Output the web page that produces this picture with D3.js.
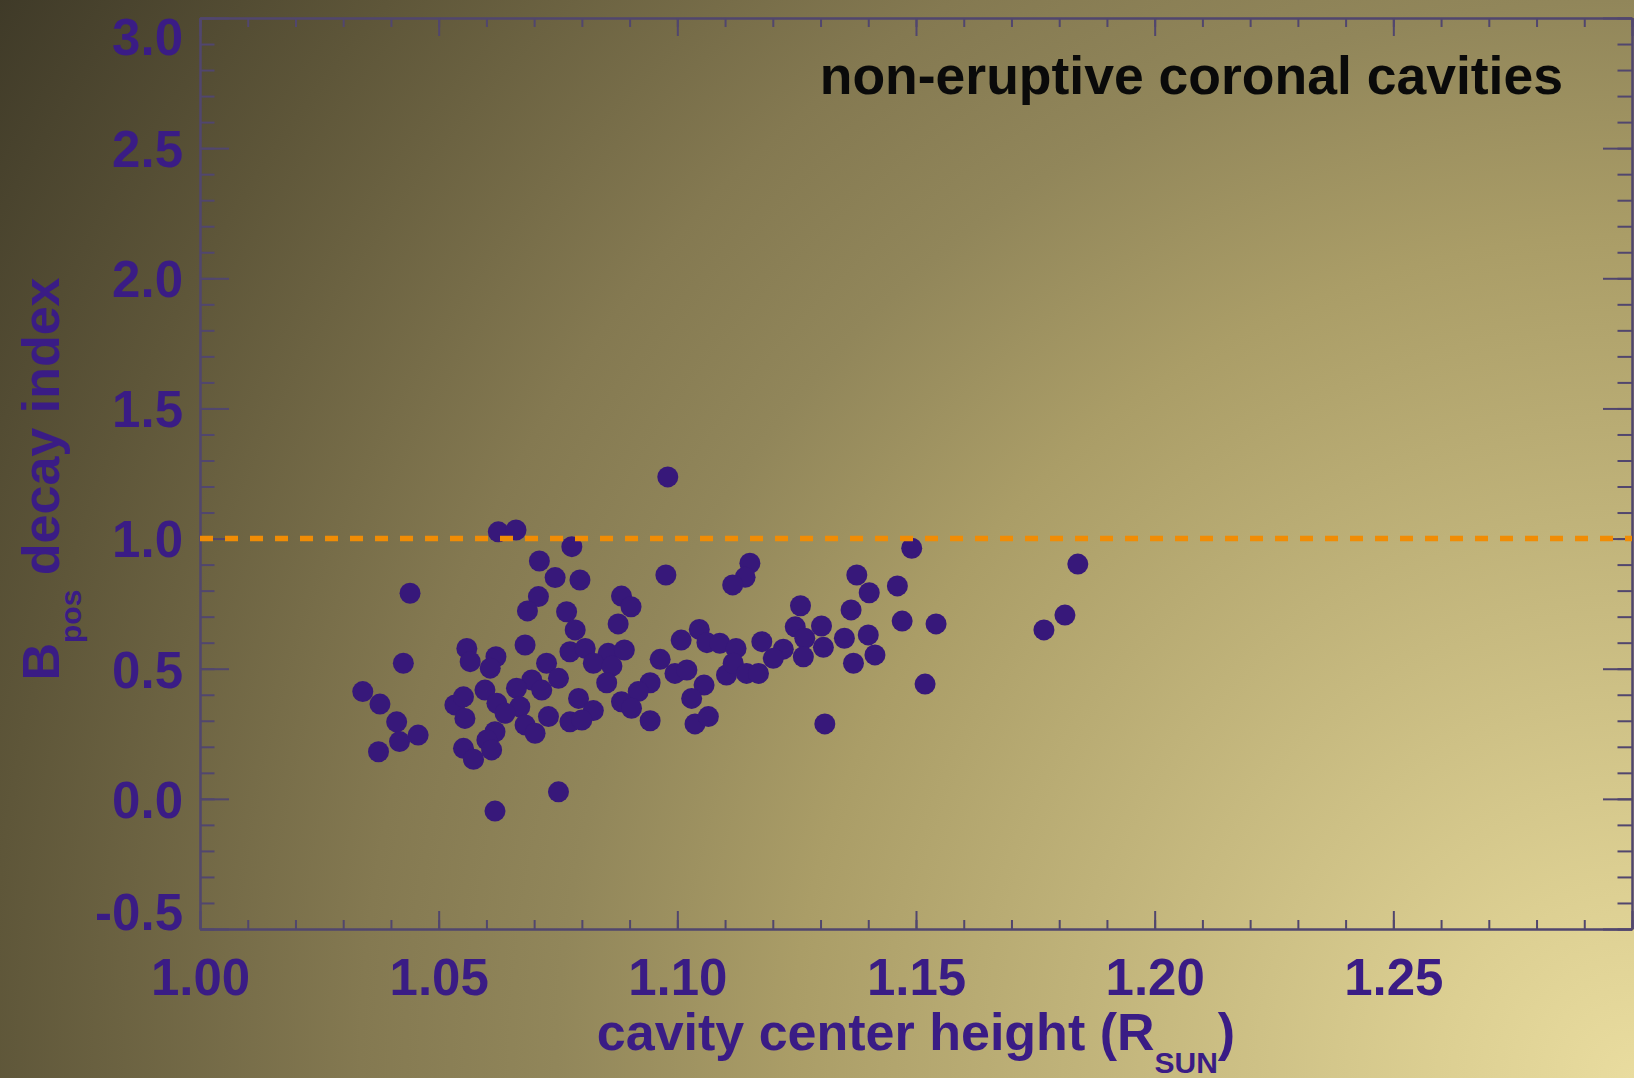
<!DOCTYPE html>
<html>
<head>
<meta charset="utf-8">
<script src="https://cdn.jsdelivr.net/npm/d3@7"></script>
<style>
  body { margin: 0; background: #5a5238; overflow: hidden; }
  text { font-family: "Liberation Sans", Arial, Helvetica, sans-serif; font-weight: bold; }
</style>
</head>
<body>
<div id="chart"></div>
<script>
// --- DATA ---
const cavityHeight = [
  1.0625, 1.0662, 1.0779, 1.0711, 1.0744, 1.0796, 1.0440, 1.0709, 1.0686, 1.0768,
  1.0786, 1.0559, 1.0681, 1.0775, 1.0426, 1.0566, 1.0620, 1.0608, 1.0726, 1.0751,
  1.0695, 1.0663, 1.0716, 1.0597, 1.0341, 1.0377, 1.0534, 1.0552, 1.0555, 1.0622,
  1.0670, 1.0639, 1.0793, 1.0412, 1.0457, 1.0418, 1.0374, 1.0618, 1.0601, 1.0611,
  1.0552, 1.0573, 1.0681, 1.0702, 1.0730, 1.0775, 1.0751, 1.0618,
  1.0976, 1.1152, 1.1142, 1.1116, 1.0883, 1.0903, 1.0876, 1.1046, 1.1008, 1.1062,
  1.1089, 1.1123, 1.1177, 1.1222, 1.0807, 1.0855, 1.0889, 1.0824, 1.0863, 1.0964,
  1.0995, 1.1020, 1.1103, 1.1117, 1.1145, 1.1170, 1.1201, 1.0852, 1.0943, 1.0918,
  1.1056, 1.1030, 1.0883, 1.0904, 1.0824, 1.0800, 1.0943, 1.1037, 1.1065,
  1.1491, 1.1376, 1.1402, 1.1461, 1.1258, 1.1364, 1.1471, 1.1542, 1.1247, 1.1302,
  1.1267, 1.1350, 1.1400, 1.1264, 1.1306, 1.1369, 1.1414, 1.1519, 1.1309,
  1.0980, 1.1768, 1.1812, 1.1839
];
const decayIndex = [
  1.026, 1.033, 0.969, 0.914, 0.850, 0.841, 0.790, 0.777, 0.722, 0.719,
  0.649, 0.578, 0.591, 0.565, 0.521, 0.527, 0.546, 0.502, 0.521, 0.463,
  0.457, 0.425, 0.418, 0.418, 0.412, 0.364, 0.361, 0.392, 0.309, 0.367,
  0.354, 0.329, 0.386, 0.296, 0.245, 0.220, 0.181, 0.258, 0.226, 0.188,
  0.194, 0.152, 0.284, 0.252, 0.316, 0.296, 0.027, -0.047,
  0.860, 0.905, 0.851, 0.822, 0.779, 0.738, 0.672, 0.651, 0.610, 0.600,
  0.598, 0.578, 0.604, 0.575, 0.578, 0.559, 0.572, 0.521, 0.510, 0.536,
  0.482, 0.495, 0.476, 0.521, 0.482, 0.482, 0.540, 0.446, 0.446, 0.412,
  0.437, 0.386, 0.373, 0.348, 0.339, 0.303, 0.300, 0.288, 0.316,
  0.963, 0.860, 0.792, 0.818, 0.742, 0.726, 0.683, 0.672, 0.661, 0.664,
  0.617, 0.617, 0.630, 0.546, 0.582, 0.521, 0.553, 0.441, 0.288,
  1.237, 0.649, 0.706, 0.902
];

const xDomain      = [1.00, 1.30];
const yDomain      = [-0.5, 3.0];
const xMajorTicks  = [1.00, 1.05, 1.10, 1.15, 1.20, 1.25, 1.30];
const xLabelTicks  = [1.00, 1.05, 1.10, 1.15, 1.20, 1.25];
const yMajorTicks  = [-0.5, 0.0, 0.5, 1.0, 1.5, 2.0, 2.5, 3.0];
const thresholdVal = 1.0;
const titleText    = 'non-eruptive coronal cavities';

// --- LAYOUT ---
const width = 1634, height = 1078;
const plot = { left: 200, right: 1632, top: 18, bottom: 929 };
const axisColor = '#51466e';
const textColor = '#3a1c85';
const dotColor  = '#37187a';

const svg = d3.select('#chart').append('svg')
  .attr('width', width)
  .attr('height', height);

// background glow
const defs = svg.append('defs');
const grad = defs.append('radialGradient')
  .attr('id', 'bg')
  .attr('gradientUnits', 'userSpaceOnUse')
  .attr('cx', 1634).attr('cy', 1078).attr('r', 1960);
[[0.00, '#e9dc9f'], [0.10, '#dccf92'], [0.43, '#aa9d67'], [0.55, '#91865a'],
 [0.65, '#847951'], [0.84, '#5e5639'], [1.00, '#3f3a28']]
  .forEach(([o, c]) => grad.append('stop').attr('offset', o).attr('stop-color', c));

svg.append('rect')
  .attr('width', width).attr('height', height)
  .attr('fill', 'url(#bg)');

// scales
const x = d3.scaleLinear().domain(xDomain).range([plot.left, plot.right]);
const y = d3.scaleLinear().domain(yDomain).range([plot.bottom, plot.top]);

// minor tick values
const xMinor = d3.range(0, 31).map(i => +(1 + i * 0.01).toFixed(2));
const yMinor = d3.range(0, 36).map(i => +(-0.5 + i * 0.1).toFixed(1));

const xLen = 18, yLen = 29;   // tick lengths (IDL style, 2% of plot size)

function styleAxis(g) {
  g.selectAll('path.domain').attr('stroke', axisColor).attr('stroke-width', 2);
  g.selectAll('.tick line').attr('stroke', axisColor).attr('stroke-width', 2);
}

// --- AXES ---
// bottom
svg.append('g')
  .attr('transform', `translate(0,${plot.bottom})`)
  .call(d3.axisBottom(x).tickValues(xMinor).tickSize(-xLen / 2).tickSizeOuter(0).tickFormat(''))
  .call(styleAxis);
const xAxisG = svg.append('g')
  .attr('transform', `translate(0,${plot.bottom})`)
  .call(d3.axisBottom(x).tickValues(xMajorTicks).tickSize(-xLen).tickSizeOuter(0)
    .tickPadding(30).tickFormat(d => xLabelTicks.includes(d) ? d.toFixed(2) : ''))
  .call(styleAxis);

// top (mirror)
svg.append('g')
  .attr('transform', `translate(0,${plot.top})`)
  .call(d3.axisTop(x).tickValues(xMinor).tickSize(-xLen / 2).tickSizeOuter(0).tickFormat(''))
  .call(styleAxis);
svg.append('g')
  .attr('transform', `translate(0,${plot.top})`)
  .call(d3.axisTop(x).tickValues(xMajorTicks).tickSize(-xLen).tickSizeOuter(0).tickFormat(''))
  .call(styleAxis);

// left
svg.append('g')
  .attr('transform', `translate(${plot.left},0)`)
  .call(d3.axisLeft(y).tickValues(yMinor).tickSize(-yLen / 2).tickSizeOuter(0).tickFormat(''))
  .call(styleAxis);
const yAxisG = svg.append('g')
  .attr('transform', `translate(${plot.left},0)`)
  .call(d3.axisLeft(y).tickValues(yMajorTicks).tickSize(-yLen).tickSizeOuter(0)
    .tickPadding(17).tickFormat(d => d.toFixed(1)))
  .call(styleAxis);

// right (mirror)
svg.append('g')
  .attr('transform', `translate(${plot.right},0)`)
  .call(d3.axisRight(y).tickValues(yMinor).tickSize(-yLen / 2).tickSizeOuter(0).tickFormat(''))
  .call(styleAxis);
svg.append('g')
  .attr('transform', `translate(${plot.right},0)`)
  .call(d3.axisRight(y).tickValues(yMajorTicks).tickSize(-yLen).tickSizeOuter(0).tickFormat(''))
  .call(styleAxis);

// tick label styling
[xAxisG, yAxisG].forEach(g => g.selectAll('.tick text')
  .attr('fill', textColor)
  .style('font-size', '51px')
  .style('font-family', '"Liberation Sans", Arial, sans-serif')
  .style('font-weight', 'bold'));

// IDL keeps the end labels inside the frame
yAxisG.selectAll('.tick text')
  .attr('dy', d => d === yDomain[1] ? '0.72em' : d === yDomain[0] ? '0em' : '0.36em');

// --- POINTS ---
const points = cavityHeight.map((h, i) => ({ h, n: decayIndex[i] }));
svg.append('g')
  .selectAll('circle')
  .data(points)
  .enter().append('circle')
    .attr('cx', d => x(d.h))
    .attr('cy', d => y(d.n))
    .attr('r', 10.5)
    .attr('fill', dotColor);

// --- THRESHOLD LINE ---
svg.append('path')
  .datum(xDomain)
  .attr('d', d3.line().x(d => x(d)).y(() => y(thresholdVal)))
  .attr('stroke', '#f08c05')
  .attr('stroke-width', 5.5)
  .attr('stroke-dasharray', '13 12')
  .attr('fill', 'none');

// --- TEXT ---
svg.append('text')
  .attr('x', 1563).attr('y', 94)
  .attr('text-anchor', 'end')
  .attr('fill', '#0a0a0a')
  .style('font-size', '53.5px')
  .text(titleText);

const xTitle = svg.append('text')
  .attr('transform', `translate(${(plot.left + plot.right) / 2},1050)`)
  .attr('text-anchor', 'middle')
  .attr('fill', textColor)
  .style('font-size', '52px');
xTitle.append('tspan').text('cavity center height (R');
xTitle.append('tspan').attr('dy', 23).style('font-size', '30px').text('SUN');
xTitle.append('tspan').attr('dy', -23).text(')');

const yTitle = svg.append('text')
  .attr('transform', 'translate(59,479) rotate(-90)')
  .attr('text-anchor', 'middle')
  .attr('fill', textColor)
  .style('font-size', '52px');
yTitle.append('tspan').text('B');
yTitle.append('tspan').attr('dy', 22).style('font-size', '30px').text('pos');
yTitle.append('tspan').attr('dy', -22).text(' decay index');
</script>
</body>
</html>
